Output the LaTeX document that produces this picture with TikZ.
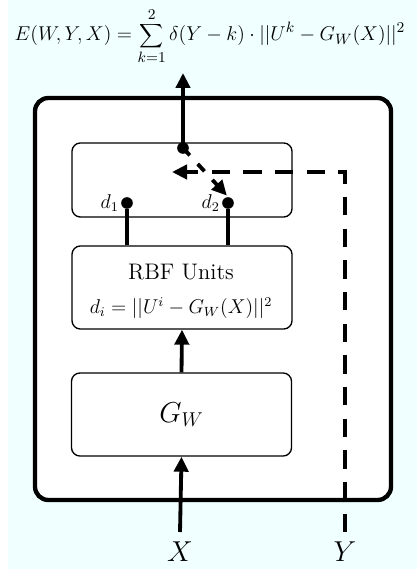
\documentclass[tikz,border=0pt]{standalone}
\usetikzlibrary{arrows.meta}
\definecolor{bgcyan}{RGB}{240,255,255}
\begin{document}
\begin{tikzpicture}[x=0.6pt,y=-0.6pt,
  box/.style={draw,line width=0.8pt,rounded corners=5pt,fill=white,inner sep=0pt,minimum width=132pt},
  outerbox/.style={draw,line width=2.6pt,rounded corners=8pt,inner sep=0pt,fill=white},
  thick arrow/.style={line width=2.3pt,-{Triangle[length=9pt,width=8.5pt]}},
  thick line/.style={line width=2.3pt},
  dline/.style={line width=2.3pt,dash pattern=on 11pt off 8pt},
  dot/.style={circle,fill=black,inner sep=0pt,minimum size=7pt},
  bigtext/.style={font=\fontsize{18}{20}\selectfont}]
\useasboundingbox (0,0) rectangle (417,571);
\fill[bgcyan] (8,0) rectangle (417,569);
% outer box
\node[outerbox,minimum width=213.6pt,minimum height=241.2pt] (outer) at (213,299) {};
% inner boxes
\node[box,minimum height=44.4pt] (top) at (182,180) {};
\node[box,minimum height=49.8pt] (rbf) at (182,287.5) {};
\node[font=\fontsize{13.5}{15}\selectfont] (rbft) at (181,272) {RBF Units};
\node[font=\fontsize{11.5}{13}\selectfont] (rbff) at (181,308) {$d_i=||U^i-G_W(X)||^2$};
\node[box,minimum height=49.8pt,bigtext] (g) at (181.5,414.5) {$G_W$};
% equation
\node[font=\fontsize{12.2}{14}\selectfont] (eq) at (210,36) {$\displaystyle E(W,Y,X)=\sum_{k=1}^{2}\delta(Y-k)\cdot||U^k-G_W(X)||^2$};
% labels
\node[bigtext] (xl) at (180,552) {$X$};
\node[bigtext] (yl) at (345,552) {$Y$};
% coordinates
\coordinate (xin) at (180,532);
\coordinate (yin) at (345,532);
\coordinate (ycorner) at (345,172);
\coordinate (ytip) at (172,172);
\coordinate (out) at (183,73);
\node[dot] (td) at (183,148) {};
\node[dot] (d1) at (127,203) {};
\node[dot] (d2) at (228,203) {};
\node[font=\fontsize{12}{14}\selectfont,anchor=east,inner sep=1pt] (d1l) at (d1.west) {$d_1$};
\node[font=\fontsize{12}{14}\selectfont,anchor=east,inner sep=1pt] (d2l) at (d2.west) {$d_2$};
% connectors
\draw[thick arrow] (xin) -- (g.south);
\draw[thick arrow] (g.north) -- (rbf.south);
\draw[thick line] (d1) -- (d1 |- rbf.north);
\draw[thick line] (d2) -- (d2 |- rbf.north);
\draw[thick arrow] (td.center) -- (out);
\draw[dline,-{Triangle[length=9pt,width=8.5pt]}] (yin) -- (ycorner) -- (ytip);
\draw[line width=2.3pt,dash pattern=on 6pt off 7pt,-{Triangle[length=9pt,width=8.5pt]},shorten >=1pt] (td.center) -- (d2.north);
\end{tikzpicture}
\end{document}
